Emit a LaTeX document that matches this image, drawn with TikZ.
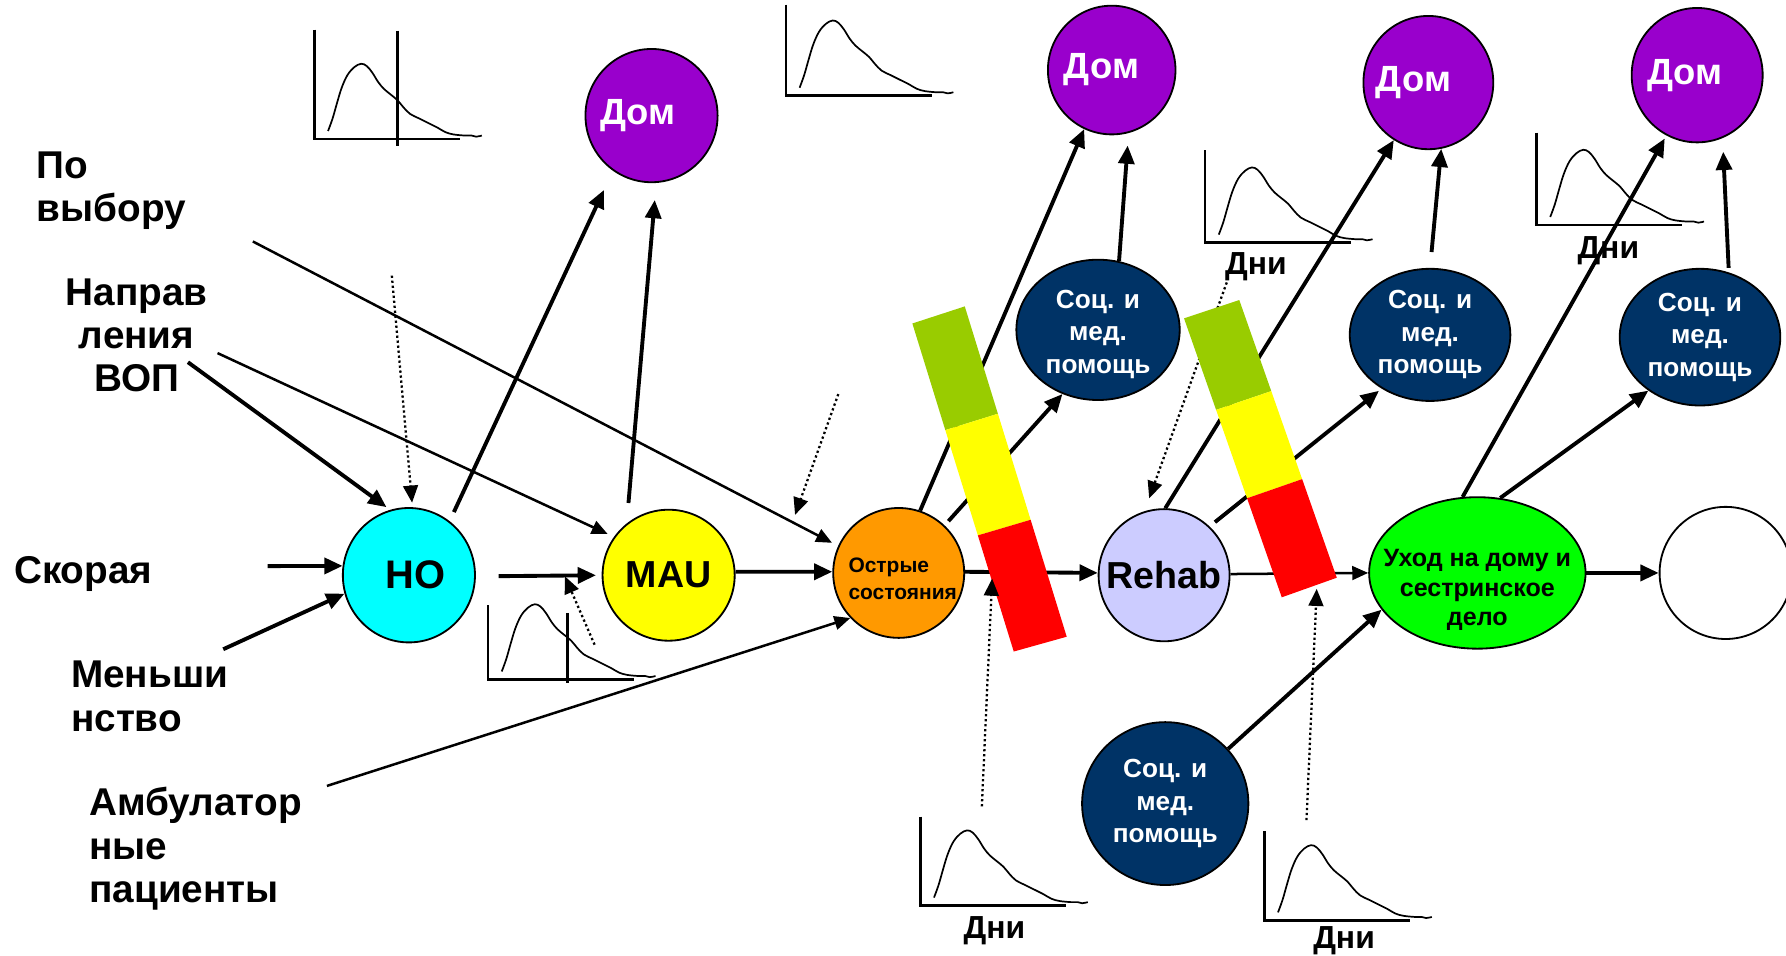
\documentclass[tikz,border=0pt]{standalone}
\usepackage{fontspec}
\setmainfont{Liberation Sans}
\usetikzlibrary{shapes.geometric,arrows.meta,calc}
\definecolor{cHO}{HTML}{00FFFF}
\definecolor{cMAU}{HTML}{FFFF00}
\definecolor{cAC}{HTML}{FF9900}
\definecolor{cReh}{HTML}{CCCCFF}
\definecolor{cUh}{HTML}{00FF00}
\definecolor{cDom}{HTML}{9900CC}
\definecolor{cSoc}{HTML}{003366}
\definecolor{barG}{HTML}{99CC00}
\definecolor{barY}{HTML}{FFFF00}
\definecolor{barR}{HTML}{FF0000}
\tikzset{
  pics/distg/.style={code={
    \draw[line width=1.2pt] (0,-#1) -- (0,0) -- (128,0);
    \draw[line width=0.75pt,line join=round] plot[smooth,tension=0.6] coordinates {(12,-7) (16,-18) (20,-32) (24,-45) (29,-56) (35,-63) (41,-66) (46,-64) (51,-58) (56,-50) (61,-44) (67,-39) (73,-34) (78,-28) (84,-22) (92,-18) (100,-14) (108,-10) (115,-6) (122,-4) (132,-3) (138,-3) (142,-2) (147,-3)};
  }},
  bub/.style={ellipse,draw=black,line width=0.8pt,inner sep=0pt},
  thk/.style={line width=1.7pt,-{Triangle[length=8pt,width=7pt]}},
  thn/.style={line width=1.1pt,-{Triangle[length=7pt,width=6pt]}},
  dots/.style={line width=1pt,dash pattern=on 1pt off 1.2pt,-{Triangle[length=7.5pt,width=6.5pt]}},
  lbl/.style={font=\fontsize{17}{19}\selectfont\bfseries,inner sep=0pt},
  dni/.style={font=\fontsize{14}{16}\selectfont\bfseries,inner sep=0pt},
  domtxt/.style={text=white,font=\fontsize{16}{18}\selectfont\bfseries,inner sep=0pt},
  soctxt/.style={text=white,font=\fontsize{11.5}{14.3}\selectfont\bfseries,align=center,inner sep=0pt},
  bigtxt/.style={font=\fontsize{16.5}{18}\selectfont\bfseries,inner sep=0pt},
}
\begin{document}
\begin{tikzpicture}[x=0.5pt,y=-0.5pt]
\useasboundingbox (0,0) rectangle (1568,839);

% ---------- nodes ----------
\node[bub,fill=cHO,minimum width=58pt,minimum height=59pt,label={[bigtxt,font=\fontsize{17.5}{19}\selectfont\bfseries,xshift=3pt]center:HO}] (HO) at (359,505) {};
\node[bub,fill=cMAU,minimum width=58pt,minimum height=57.5pt,label={[bigtxt]center:MAU}] (MAU) at (587,505) {};
\node[bub,fill=cAC,minimum width=57.5pt,minimum height=57pt,label={[font=\fontsize{9.2}{11.8}\selectfont\bfseries,align=left,inner sep=0pt,xshift=1.75pt,yshift=-2.5pt]center:Острые\\состояния}] (AC) at (789,503) {};
\node[bub,fill=cReh,minimum width=57.5pt,minimum height=58pt,label={[bigtxt]center:Rehab}] (Rehab) at (1022,505) {};
\node[bub,fill=cUh,minimum width=95pt,minimum height=66.5pt,label={[font=\fontsize{11}{12.8}\selectfont\bfseries,align=center,inner sep=0pt,yshift=-7.5pt]center:Уход на дому и\\сестринское\\дело}] (Uhod) at (1297,503) {};
\node[bub,fill=white,minimum width=58pt,minimum height=58pt] (White) at (1515,503) {};

\node[bub,fill=cDom,minimum width=58pt,minimum height=58.5pt,label={[domtxt,xshift=-6pt]center:Дом}] (Dom1) at (572,101.5) {};
\node[bub,fill=cDom,minimum width=56pt,minimum height=56.5pt,label={[domtxt,xshift=-4.5pt]center:Дом}] (Dom2) at (976,61.5) {};
\node[bub,fill=cDom,minimum width=57pt,minimum height=58.5pt,label={[domtxt,xshift=-6.5pt]center:Дом}] (Dom3) at (1254,72.5) {};
\node[bub,fill=cDom,minimum width=57.5pt,minimum height=59pt,label={[domtxt,xshift=-5.5pt]center:Дом}] (Dom4) at (1490,66) {};

\node[bub,fill=cSoc,minimum width=71.7pt,minimum height=61.6pt,label={[soctxt,yshift=-2pt]center:Соц. и\\мед.\\помощь}] (Soc1) at (964,289.6) {};
\node[bub,fill=cSoc,minimum width=70.5pt,minimum height=58pt,label={[soctxt]center:Соц. и\\мед.\\помощь}] (Soc2) at (1255.5,294) {};
\node[bub,fill=cSoc,minimum width=70.5pt,minimum height=60pt,label={[soctxt]center:Соц. и\\мед.\\помощь}] (Soc3) at (1492.5,296) {};
\node[bub,fill=cSoc,minimum width=73pt,minimum height=71.5pt,label={[soctxt]center:Соц. и\\мед.\\помощь}] (Soc4) at (1023,705.5) {};

% ---------- left labels ----------
\node[lbl,anchor=north west,align=left] (poviboru) at (32,133) {По\\выбору};
\node[lbl,anchor=north,align=center] (napr) at (120,244) {Направ\\ления\\ВОП};
\node[lbl,anchor=north west] (skor) at (12,488) {Скорая};
\node[lbl,anchor=north west,align=left] (mensh) at (62,580) {Меньши\\нство};
\node[lbl,anchor=north west,align=left] (ambul) at (78,691) {Амбулатор\\ные\\пациенты};

% ---------- small graphs ----------
\pic at (276,122) {distg=96};
\draw[line width=1.2pt] (349,27) -- (349,128);
\pic at (428.5,596.5) {distg=65};
\draw[line width=1.2pt] (498.5,538) -- (498.5,600);
\pic at (690,84) {distg=80};
\pic at (1058,213) {distg=81};
\pic at (1349,197.5) {distg=81};
\pic at (808,795) {distg=78};
\pic at (1110,808) {distg=78};
\node[dni] (dni4) at (1102.6,234) {Дни};
\node[dni] (dni5) at (1412,220) {Дни};
\node[dni] (dni6) at (873,817) {Дни};
\node[dni] (dni7) at (1180,826) {Дни};

% ---------- free ends ----------
\coordinate (s1) at (235,497);
\coordinate (s2) at (196,570);
\coordinate (s3) at (165,318);
\coordinate (s4) at (191,310);
\coordinate (s5) at (222,212);
\coordinate (s6) at (287,690);
\coordinate (da) at (344,242);
\coordinate (db1) at (736,346);
\coordinate (db2) at (698,452);
\coordinate (dc1) at (522,566);
\coordinate (dc2) at (496,506);
\coordinate (dd1) at (862,708);
\coordinate (dd2) at (871,508);
\coordinate (de1) at (1147,720);
\coordinate (de2) at (1156,517);
\coordinate (df) at (1077,248);

% ---------- solid connectors ----------
\draw[thk] (s1) -- (HO.172);
\draw[thk] (s2) -- (HO.196);
\draw[thk,shorten >=2pt] (s3) -- (HO.106);
\draw[thn,shorten >=3pt] (s4) -- (MAU.145);
\draw[thn,shorten >=3pt] (s5) -- (AC.156);
\draw[thn] (s6) -- (AC.223);
\draw[thk,shorten <=4.4pt,shorten >=9.3pt] (HO.53) -- (Dom1.235);
\draw[thk,shorten <=9pt,shorten >=7.5pt] (MAU.129) -- (Dom1.274);
\draw[thk,shorten <=10pt,shorten >=2.5pt] (HO.359) -- (MAU.180);
\draw[thk] (MAU.3) -- (AC.179);
\draw[thk] (AC.1) -- (Rehab.178);
\draw[thn] (Rehab.1) -- (Uhod.180);
\draw[thk] (Uhod.0) -- (White.180);
\draw[thk] (AC.71) -- (Dom2.245);
\draw[thk,shorten <=2.5pt] (AC.46) -- (Soc1.241);
\draw[thk,shorten >=5.5pt] (Soc1.73) -- (Dom2.285);
\draw[thk] (Rehab.89) -- (Dom3.239);
\draw[thk,shorten <=3pt,shorten >=1.5pt] (Rehab.47) -- (Soc2.228);
\draw[thk,shorten <=7pt] (Soc2.90) -- (Dom3.281);
\draw[thk,shorten >=1.5pt] (Uhod.101) -- (Dom4.243);
\draw[thk] (Uhod.73) -- (Soc3.226);
\draw[thk,shorten <=2pt,shorten >=6pt] (Soc3.66) -- (Dom4.292);
\draw[thk] (Soc4.41) -- (Uhod.201);

% ---------- dotted connectors (behind bars) ----------
\draw[dots,shorten >=2pt] (da) -- (HO.87);
\draw[dots] (db1) -- (db2);
\draw[dots] (dc1) -- (dc2);
\draw[dots,shorten >=6pt] (df) -- (Rehab.107);

% ---------- colour bars ----------
\fill[barG] (801,284) -- (847,269) -- ($(847,269)!0.325!(936.5,559)$) -- ($(801,284)!0.325!(890,572)$) -- cycle;
\fill[barY] ($(801,284)!0.325!(890,572)$) -- ($(847,269)!0.325!(936.5,559)$) -- ($(847,269)!0.646!(936.5,559)$) -- ($(801,284)!0.646!(890,572)$) -- cycle;
\fill[barR] ($(801,284)!0.646!(890,572)$) -- ($(847,269)!0.646!(936.5,559)$) -- (936.5,559) -- (890,572) -- cycle;

\fill[barG] (1039.5,279.5) -- (1088,263.4) -- ($(1088,263.4)!0.328!(1173.6,507.2)$) -- ($(1039.5,279.5)!0.328!(1125.3,524.4)$) -- cycle;
\fill[barY] ($(1039.5,279.5)!0.328!(1125.3,524.4)$) -- ($(1088,263.4)!0.328!(1173.6,507.2)$) -- ($(1088,263.4)!0.645!(1173.6,507.2)$) -- ($(1039.5,279.5)!0.645!(1125.3,524.4)$) -- cycle;
\fill[barR] ($(1039.5,279.5)!0.645!(1125.3,524.4)$) -- ($(1088,263.4)!0.645!(1173.6,507.2)$) -- (1173.6,507.2) -- (1125.3,524.4) -- cycle;

% ---------- dotted connectors (over bars) ----------
\draw[dots] (dd1) -- (dd2);
\draw[dots] (de1) -- (de2);
\end{tikzpicture}
\end{document}
